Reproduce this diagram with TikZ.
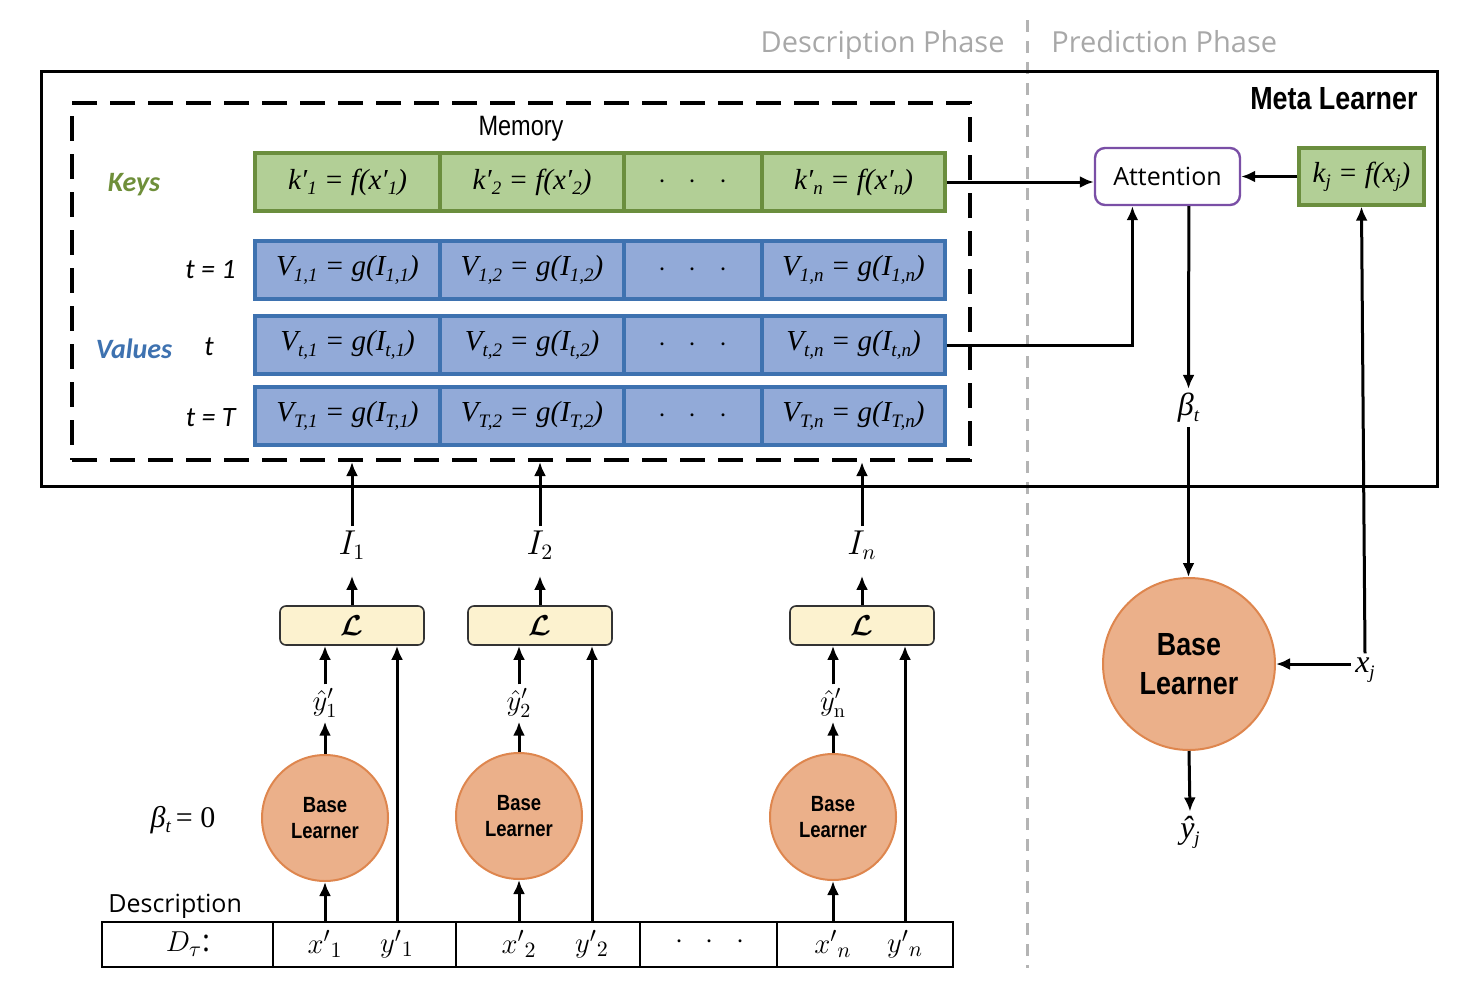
\documentclass[tikz,border=0pt]{standalone}
\usepackage{amsmath}
\usepackage[no-math]{fontspec}
\setmainfont{Open Sans}
\newfontfamily\carl{Carlito}
\newfontfamily\tms{Liberation Serif}
\newfontfamily\narrowf[FakeStretch=0.84]{Liberation Sans}
\usetikzlibrary{arrows.meta,calc}
\newcommand\fsz[2]{\fontsize{#1}{#2}\selectfont}
\newcommand\tm[1]{{\tms\itshape #1}}
\newcommand\sbs[1]{\raisebox{-0.4ex}{\fsz{9.5}{10}#1}}
\definecolor{keyfill}{HTML}{B2CF96}
\definecolor{keyborder}{HTML}{6B8E3E}
\definecolor{valfill}{HTML}{92AAD8}
\definecolor{valborder}{HTML}{3E72B0}
\definecolor{peach}{HTML}{EBB08A}
\definecolor{peachborder}{HTML}{DE864E}
\definecolor{lossfill}{HTML}{FCF2CF}
\definecolor{attborder}{HTML}{7A4FA6}
\definecolor{phasegrey}{HTML}{A8A8A8}
\definecolor{divgrey}{HTML}{B4B4B4}
\definecolor{keytext}{HTML}{6F8F3A}
\definecolor{valtext}{HTML}{3E72B0}
\begin{document}
\begin{tikzpicture}[x=0.5pt,y=-0.5pt,
  arr/.style={line width=1.5pt,-{Latex[length=7pt,width=6pt]}},
  ln/.style={line width=1.5pt},
  keycell/.style={draw=keyborder,fill=keyfill,line width=1.6pt,minimum height=29pt,inner sep=0pt,font=\fsz{14.5}{16}},
  valcell/.style={draw=valborder,fill=valfill,line width=1.6pt,minimum height=29pt,inner sep=0pt,font=\fsz{14.5}{16}},
  tabcell/.style={draw,line width=1pt,minimum height=22.5pt,inner sep=0pt},
  lab/.style={inner sep=2pt,font=\fsz{14}{16}},
  lossbox/.style={draw=black!80,fill=lossfill,rounded corners=3pt,line width=0.8pt,minimum width=72pt,minimum height=19.5pt,inner sep=0pt,font=\fsz{14}{16}},
  smallbl/.style={circle,draw=peachborder,fill=peach,line width=1pt,minimum size=63pt,inner sep=0pt,align=center,font=\narrowf\bfseries\fsz{11}{13}},
  bigbl/.style={circle,draw=peachborder,fill=peach,line width=1pt,minimum size=86pt,inner sep=0pt,align=center,font=\narrowf\bfseries\fsz{16}{19.5}},
  rowlab/.style={font=\carl\itshape\fsz{14}{16},inner sep=0pt}
]
\useasboundingbox (0,0) rectangle (1474,996);

% phase divider and titles
\coordinate (divtop) at (1027,20);
\coordinate (divbot) at (1027,968);
\draw[divgrey,line width=1.5pt,dash pattern=on 6pt off 4.5pt] (divtop) -- (divbot);
\node[anchor=base east,text=phasegrey,font=\fsz{14.5}{17},inner sep=0pt] (dphase) at (1005,52) {Description Phase};
\node[anchor=base west,text=phasegrey,font=\fsz{14.5}{17},inner sep=0pt] (pphase) at (1051,52) {Prediction Phase};

% meta learner box
\node[draw,line width=1.5pt,minimum width=698pt,minimum height=207.5pt,inner sep=0pt] (meta) at (739,278.5) {};
\node[anchor=east,font=\narrowf\bfseries\fsz{16}{18},inner sep=0pt] (metalab) at (1418,99) {Meta Learner};

% memory box
\node[draw,line width=2pt,dash pattern=on 12.5pt off 6.5pt,minimum width=449pt,minimum height=178.5pt,inner sep=0pt] (mem) at (521,281.5) {};
\node[font=\narrowf\fsz{14}{16},inner sep=0pt] (memlab) at (521,129) {Memory};

% row labels
\node[font=\carl\bfseries\itshape\fsz{14}{16},text=keytext,inner sep=0pt] (keyslab) at (134,185) {Keys};
\node[font=\carl\bfseries\itshape\fsz{14}{16},text=valtext,inner sep=0pt] (valslab) at (134,349) {Values};
\node[rowlab,anchor=east] (t1lab) at (236,270) {t = 1};
\node[rowlab] (ttlab) at (209,347) {t};
\node[rowlab,anchor=east] (tTlab) at (236,418) {t = T};

% keys row
\node[keycell,minimum width=92.5pt] (k1) at (347.5,182) {\tm{k′\sbs{1} = f(x′\sbs{1})}};
\node[keycell,minimum width=92pt] (k2) at (532,182) {\tm{k′\sbs{2} = f(x′\sbs{2})}};
\node[keycell,minimum width=69pt] (k3) at (693,182) {$\cdot\hspace{8pt}\cdot\hspace{8pt}\cdot$};
\node[keycell,minimum width=91.5pt] (kn) at (853.5,182) {\tm{k′\sbs{n} = f(x′\sbs{n})}};

% values rows
\node[valcell,minimum width=92.5pt] (v11) at (347.5,270) {\tm{V\sbs{1,1} = g(I\sbs{1,1})}};
\node[valcell,minimum width=92pt] (v12) at (532,270) {\tm{V\sbs{1,2} = g(I\sbs{1,2})}};
\node[valcell,minimum width=69pt] (v13) at (693,270) {$\cdot\hspace{8pt}\cdot\hspace{8pt}\cdot$};
\node[valcell,minimum width=91.5pt] (v1n) at (853.5,270) {\tm{V\sbs{1,n} = g(I\sbs{1,n})}};

\node[valcell,minimum width=92.5pt] (vt1) at (347.5,345) {\tm{V\sbs{t,1} = g(I\sbs{t,1})}};
\node[valcell,minimum width=92pt] (vt2) at (532,345) {\tm{V\sbs{t,2} = g(I\sbs{t,2})}};
\node[valcell,minimum width=69pt] (vt3) at (693,345) {$\cdot\hspace{8pt}\cdot\hspace{8pt}\cdot$};
\node[valcell,minimum width=91.5pt] (vtn) at (853.5,345) {\tm{V\sbs{t,n} = g(I\sbs{t,n})}};

\node[valcell,minimum width=92.5pt] (vT1) at (347.5,416) {\tm{V\sbs{T,1} = g(I\sbs{T,1})}};
\node[valcell,minimum width=92pt] (vT2) at (532,416) {\tm{V\sbs{T,2} = g(I\sbs{T,2})}};
\node[valcell,minimum width=69pt] (vT3) at (693,416) {$\cdot\hspace{8pt}\cdot\hspace{8pt}\cdot$};
\node[valcell,minimum width=91.5pt] (vTn) at (853.5,416) {\tm{V\sbs{T,n} = g(I\sbs{T,n})}};

% prediction side
\node[draw=attborder,line width=1.2pt,rounded corners=5pt,minimum width=72.5pt,minimum height=28.5pt,inner sep=0pt,font=\fsz{12.5}{15}] (att) at (1167.5,176.5) {Attention};
\node[keycell,minimum width=62.5pt,minimum height=28.5pt] (kj) at (1361.5,176.5) {\tm{k\sbs{j} = f(x\sbs{j})}};
\node[lab,font=\tms\itshape\fsz{16}{18}] (bt) at (1188.5,408) {β\sbs{t}};
\node[bigbl] (bl) at (1189,664) {Base\\Learner};
\node[lab,font=\tms\itshape\fsz{16}{18}] (xj) at (1365,670) {x\sbs{j}};
\node[lab,font=\tms\itshape\fsz{16}{18}] (yj) at (1190,832) {ŷ\sbs{j}};

\draw[arr] (kn.east) -- (kn.east -| att.west);
\draw[arr] (vtn.east) -| ($(att.south west)!0.262!(att.south east)$);
\draw[arr] (kj.west) -- (att.east);
\draw[arr] ($(att.south west)!0.645!(att.south east)$) -- (bt.north);
\draw[arr] (bt.south) -- (bt.south |- bl.north);
\draw[arr] (xj.west |- bl.east) -- (bl.east);
\draw[arr] (xj.north) -- (kj.south);
\draw[arr] (bl.south) -- (yj.north);

% description table
\node[font=\fsz{12.5}{15},anchor=west,inner sep=0pt] (desclab) at (108,906) {Description};
\node[tabcell,minimum width=85.5pt] (c0) at (187.5,944.5) {};
\node[tabcell,minimum width=91.5pt] (c1) at (364.5,944.5) {};
\node[tabcell,minimum width=92pt] (c2) at (548,944.5) {};
\node[tabcell,minimum width=68.5pt] (c3) at (708.5,944.5) {};
\node[tabcell,minimum width=88pt] (c4) at (865,944.5) {};
\node[lab,font=\fsz{15}{17}] (dtau) at (188,944) {$D_{\tau}$:};
\node[lab,font=\fsz{15}{17}] (x1) at (325,944) {$x'{}_{1}$};
\node[lab,font=\fsz{15}{17}] (y1) at (397,944) {$y'{}_{1}$};
\node[lab,font=\fsz{15}{17}] (x2) at (519,944) {$x'{}_{2}$};
\node[lab,font=\fsz{15}{17}] (y2) at (592,944) {$y'{}_{2}$};
\node[lab,font=\fsz{15}{17}] (dots) at (710,942) {$\cdot\hspace{8pt}\cdot\hspace{8pt}\cdot$};
\node[lab,font=\fsz{15}{17}] (xn) at (833,944) {$x'{}_{n}$};
\node[lab,font=\fsz{15}{17}] (yn) at (905,944) {$y'{}_{n}$};

\node[lab,font=\tms\itshape\fsz{15}{17}] (beta0) at (183,820) {β\sbs{t}\,{\upshape = 0}};

% base learners
\node[smallbl] (sb1) at (325,818) {Base\\Learner};
\node[smallbl] (sb2) at (519,816) {Base\\Learner};
\node[smallbl] (sb3) at (833,817) {Base\\Learner};

\node[lab,font=\fsz{14}{16}] (yh1) at (325,703) {$\hat{y}'_1$};
\node[lab,font=\fsz{14}{16}] (yh2) at (519,703) {$\hat{y}'_2$};
\node[lab,font=\fsz{14}{16}] (yh3) at (833,703) {$\hat{y}'_{\mathrm{n}}$};

\node[lossbox] (L1) at (352,625.5) {$\boldsymbol{\mathcal{L}}$};
\node[lossbox] (L2) at (540,625.5) {$\boldsymbol{\mathcal{L}}$};
\node[lossbox] (L3) at (862,625.5) {$\boldsymbol{\mathcal{L}}$};

\node[lab,font=\fsz{16}{18}] (I1) at (352,545) {$I_1$};
\node[lab,font=\fsz{16}{18}] (I2) at (540,545) {$I_2$};
\node[lab,font=\fsz{16}{18}] (In) at (862,545) {$I_n$};

\foreach \c/\x/\y/\s/\yh/\L/\I in {c1/x1/y1/sb1/yh1/L1/I1, c2/x2/y2/sb2/yh2/L2/I2, c4/xn/yn/sb3/yh3/L3/In}{
  \draw[arr] (\x |- \c.north) -- (\s.south);
  \draw[arr] (\s.north) -- (\yh.south);
  \draw[arr] (\yh.north) -- (\yh.north |- \L.south);
  \draw[arr] (\y |- \c.north) -- (\y |- \L.south);
  \draw[arr,shorten >=6pt] (\L.north) -- (\I.south);
  \draw[arr] (\I.north) -- (\I.north |- mem.south);
}
\end{tikzpicture}
\end{document}
